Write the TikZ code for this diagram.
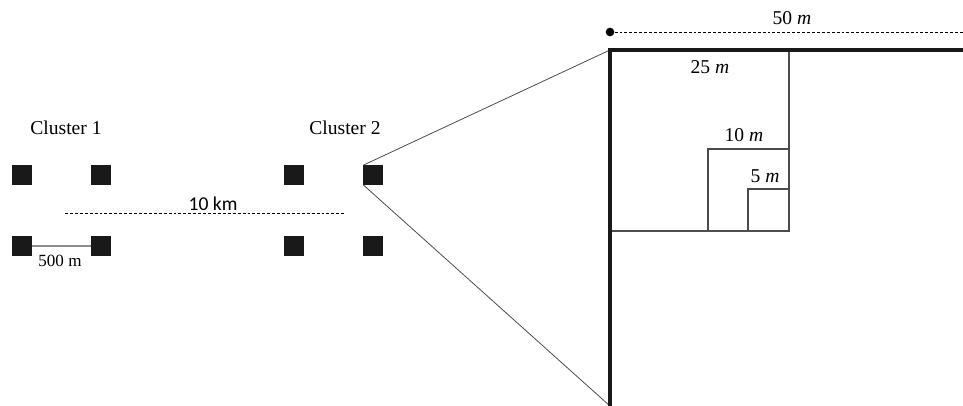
\documentclass[tikz,border=0pt]{standalone}
\usepackage{fontspec}
\setmainfont{Liberation Serif}
\newfontfamily\calibri{Carlito}
\usetikzlibrary{positioning}

\begin{document}
\begin{tikzpicture}[x=0.75pt, y=-0.75pt,
    site/.style={fill=black!90, minimum size=14.3pt, inner sep=0pt},
    lbl/.style={font=\fontsize{14.7}{16}\selectfont, inner sep=0pt, anchor=base},
    dim/.style={dash pattern=on 2.2pt off 1.5pt, line width=0.6pt},
    frame/.style={line width=3.3pt, black!90},
    plot/.style={line width=0.8pt, black!70},
    ray/.style={line width=0.6pt, black!70}
]
\useasboundingbox (0,0) rectangle (963,406);

% two clusters of four sites
\node[site] (a1) at (22,175) {};
\node[site] (a2) at (101,175) {};
\node[site] (a3) at (22,246) {};
\node[site] (a4) at (101,246) {};
\node[site] (b1) at (294,175) {};
\node[site] (b2) at (373,175) {};
\node[site] (b3) at (294,246) {};
\node[site] (b4) at (373,246) {};
\node[lbl] (c1) at (66,135) {Cluster 1};
\node[lbl] (c2) at (345,135) {Cluster 2};

% distances
\draw[line width=0.8pt, black!45] (a3.east) -- (a4.west);
\node[lbl, font=\fontsize{12.8}{14}\selectfont] (d500) at (60,266) {500 m};
\coordinate (k1) at (65,213);
\coordinate (k2) at (345,213);
\draw[dim] (k1) -- (k2);
\node[lbl, font=\calibri\fontsize{14.7}{16}\selectfont] (d10k) at (213,210) {10 km};

% zoomed field
\coordinate (tl) at (610,50);
\coordinate (bl) at (610,406);
\coordinate (tr) at (963,50);
\draw[ray] (b2.north west) -- (tl);
\draw[ray] (b2.south west) -- (bl);
\draw[plot] (610,231) -| (789,50);
\draw[plot] (708,149) rectangle (789,231);
\draw[plot] (748,189) rectangle (789,231);
\draw[frame] (bl) -- (tl) -- (tr);

\node[circle, fill=black, inner sep=0pt, minimum size=6.5pt] (dot) at (610,32) {};
\coordinate (w) at (963,32);
\draw[dim] (dot) -- (w);

\node[lbl] (m50) at (792,25) {50 \textit{m}};
\node[lbl] (m25) at (710,74) {25 \textit{m}};
\node[lbl] (m10) at (744,142) {10 \textit{m}};
\node[lbl] (m5) at (765,182) {5 \textit{m}};
\end{tikzpicture}
\end{document}
